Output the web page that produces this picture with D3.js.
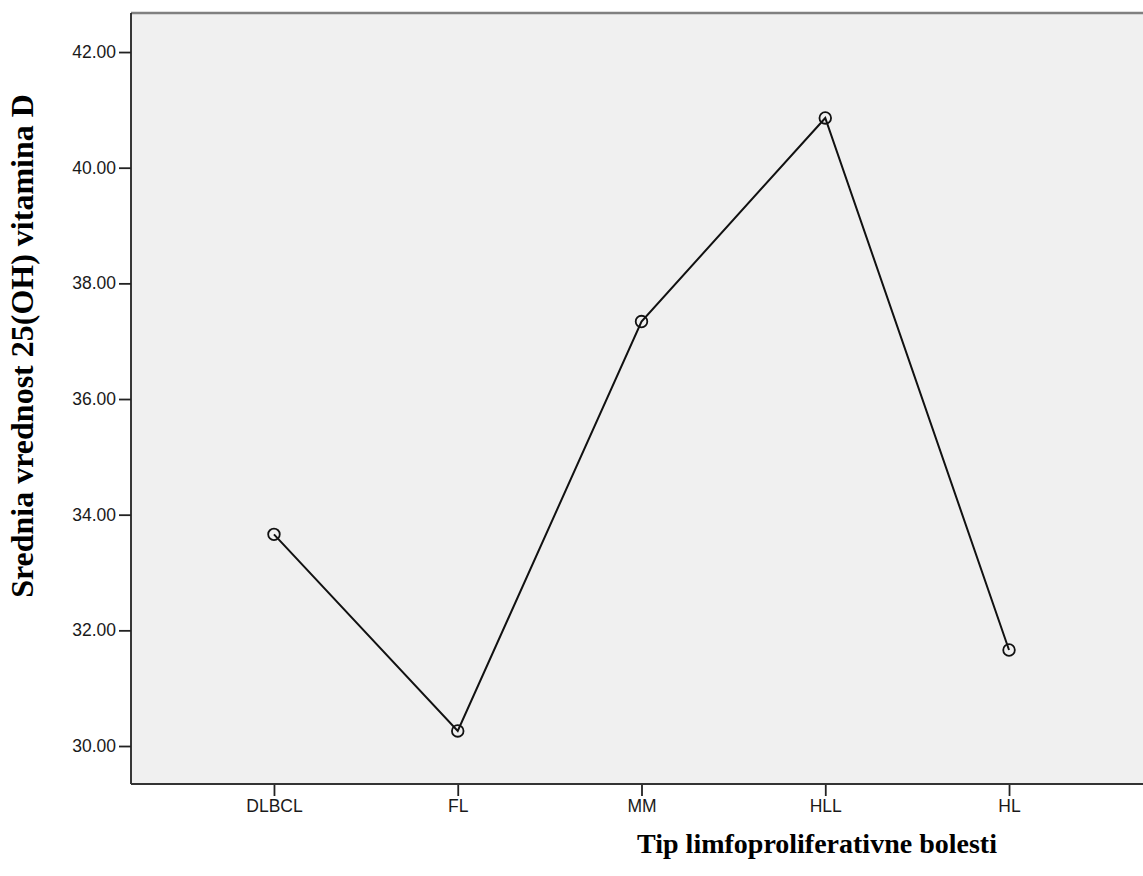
<!DOCTYPE html>
<html><head><meta charset="utf-8">
<script src="https://cdn.jsdelivr.net/npm/d3@7"></script>
<style>body{margin:0;background:#fff;}svg{display:block;}</style>
</head><body><svg id="c" width="1143" height="876"></svg>
<script>
const categories = ["DLBCL", "FL", "MM", "HLL", "HL"];
const values = [33.66, 30.26, 37.34, 40.86, 31.66];
const yTicks = [30, 32, 34, 36, 38, 40, 42];
const yTitle = "Srednia vrednost 25(OH) vitamina D";
const xTitle = "Tip limfoproliferativne bolesti";

const svg = d3.select("#c");
const L = 131, T = 13, R = 1152, B = 784;
const x = d3.scalePoint().domain(categories).range([L, R]).padding(0.778);
const y = d3.scaleLinear().domain([29.343, 42.675]).range([B, T]);

svg.append("rect").attr("x", L).attr("y", T).attr("width", R - L).attr("height", B - T).attr("fill", "#f0f0f0");

const yAxis = svg.append("g").attr("transform", `translate(${L},0)`)
  .call(d3.axisLeft(y).tickValues(yTicks).tickFormat(d3.format(".2f")).tickSize(12).tickPadding(3));
const xAxis = svg.append("g").attr("transform", `translate(0,${B})`)
  .call(d3.axisBottom(x).tickSize(12).tickPadding(4));
[yAxis, xAxis].forEach(g => {
  g.select(".domain").remove();
  g.selectAll(".tick line").attr("stroke", "#222").attr("stroke-width", 1.8);
  g.selectAll(".tick text").attr("fill", "#1a1a1a").style("font-family", "Liberation Sans, Arial, sans-serif").style("font-size", "17.5px");
});

// frame
svg.append("line").attr("x1", L).attr("x2", R).attr("y1", T).attr("y2", T).attr("stroke", "#808080").attr("stroke-width", 2.5);
svg.append("line").attr("x1", L).attr("x2", L).attr("y1", T).attr("y2", B).attr("stroke", "#222").attr("stroke-width", 1.8);
svg.append("line").attr("x1", L).attr("x2", R).attr("y1", B).attr("y2", B).attr("stroke", "#333").attr("stroke-width", 2.2);

const data = categories.map((c, i) => ({c, v: values[i]}));
svg.append("path").datum(data)
  .attr("d", d3.line().x(d => x(d.c)).y(d => y(d.v)))
  .attr("fill", "none").attr("stroke", "#111").attr("stroke-width", 2);
svg.selectAll("circle.pt").data(data).enter().append("circle")
  .attr("cx", d => x(d.c)).attr("cy", d => y(d.v)).attr("r", 5.8)
  .attr("fill", "none").attr("stroke", "#111").attr("stroke-width", 1.8);

svg.append("text").attr("x", 817).attr("y", 853).attr("text-anchor", "middle")
  .style("font-family", "Liberation Serif, Times New Roman, serif").style("font-weight", "bold").style("font-size", "28px")
  .attr("fill", "#000").text(xTitle);
svg.append("text").attr("transform", "translate(33,346) rotate(-90)").attr("text-anchor", "middle")
  .style("font-family", "Liberation Serif, Times New Roman, serif").style("font-weight", "bold").style("font-size", "32px")
  .attr("fill", "#000").text(yTitle);
</script></body></html>
